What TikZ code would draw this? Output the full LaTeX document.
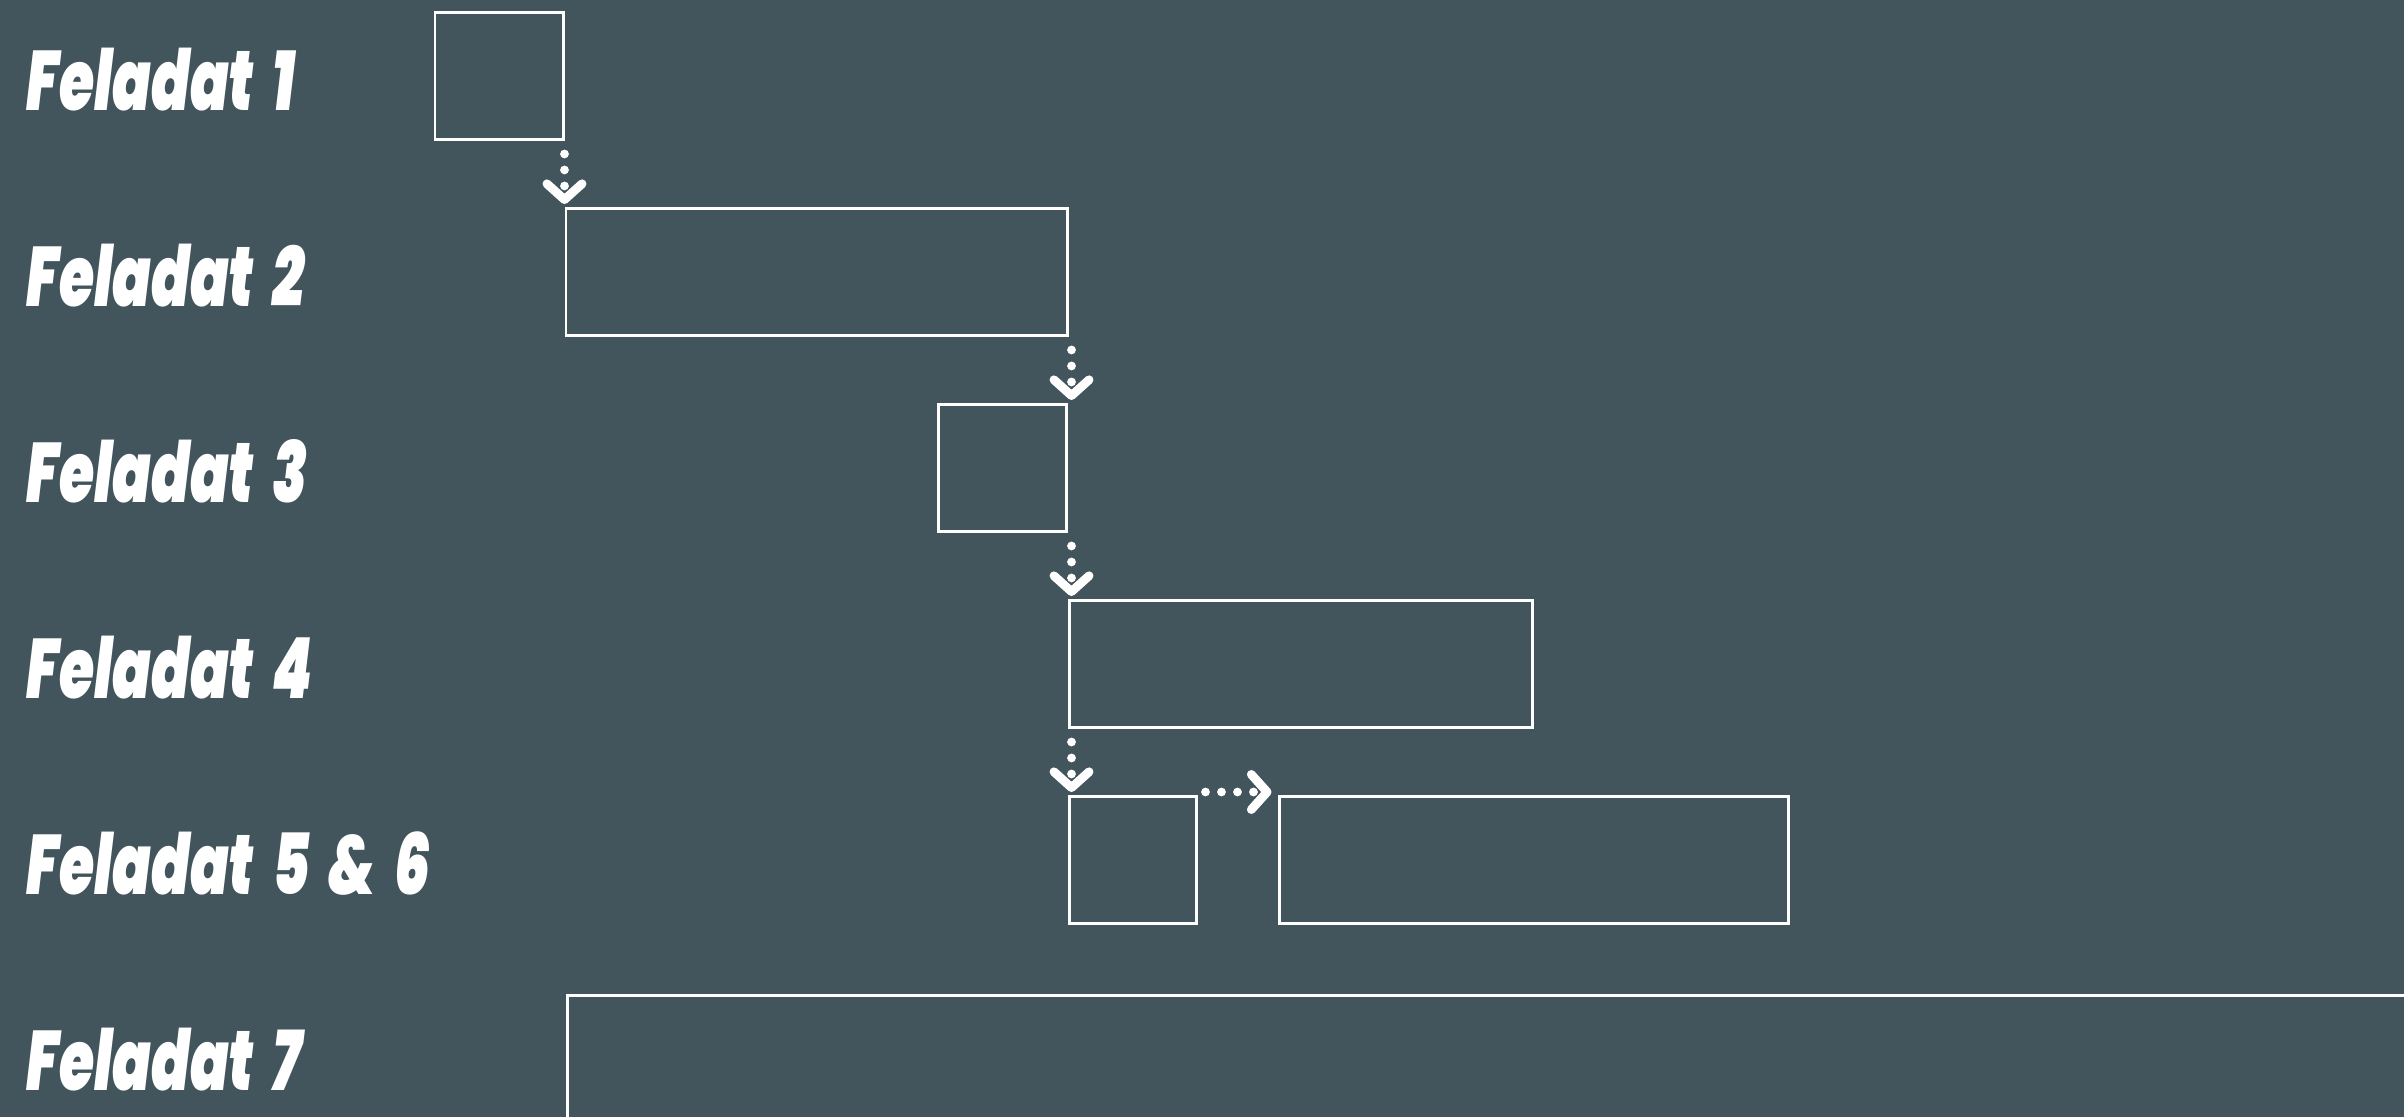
\documentclass[tikz,border=0pt]{standalone}
\usepackage{fontspec}
\newfontfamily\labelfont{Poppins Black Italic}[FakeStretch=0.675, WordSpace=1.9]
\usepackage{tikz}
\usetikzlibrary{arrows.meta}
\usetikzlibrary{positioning}
\definecolor{slate}{RGB}{66,84,92}

\begin{document}
\begin{tikzpicture}[task/.style={draw=white, line width=0.85pt, minimum height=1.27cm, inner sep=0pt},
  lab/.style={text=white, anchor=base west, inner sep=0pt, font=\labelfont\fontsize{24}{24}\selectfont},
  flow/.style={white, line width=2.5pt, line cap=round, dash pattern=on 0pt off 4.55pt,
    -{Straight Barb[length=4.5pt, width=10pt, line cap=round, line join=round]}}]
\fill[slate] (0,0) rectangle (24.04,11.17);
\clip (0,0) rectangle (24.04,11.17);

\node (f1) at (0.26,10.065) [lab] {Feladat 1};
\node (f2) at (0.26,8.105) [lab] {Feladat 2};
\node (f3) at (0.26,6.145) [lab] {Feladat 3};
\node (f4) at (0.26,4.185) [lab] {Feladat 4};
\node (f5) at (0.26,2.225) [lab] {Feladat 5 \& 6};
\node (f7) at (0.26,0.265) [lab] {Feladat 7};

\node (t1) at (4.99,10.41) [task, minimum width=1.28cm] {};
\node (t2) at (8.165,8.45) [task, minimum width=5.01cm] {};
\node (t3) at (10.02,6.49) [task, minimum width=1.28cm] {};
\node (t4) at (13.005,4.53) [task, minimum width=4.63cm] {};
\node (t5) at (11.325,2.57) [task, minimum width=1.27cm] {};
\node (t6) at (15.335,2.57) [task, minimum width=5.09cm] {};
\node (t7) at (5.66,1.23) [task, anchor=north west, minimum width=20cm] {};

\draw[flow] ([yshift=-0.13cm]t1.south east) -- ([yshift=0.03cm]t1.south east |- t2.north);
\draw[flow] ([xshift=0.04cm, yshift=-0.13cm]t2.south east -| t4.west) -- ([xshift=0.04cm, yshift=0.03cm]t3.north -| t4.west);
\draw[flow] ([xshift=0.04cm, yshift=-0.13cm]t3.south -| t4.west) -- ([xshift=0.04cm, yshift=0.03cm]t4.north west);
\draw[flow] ([xshift=0.04cm, yshift=-0.13cm]t4.south west) -- ([xshift=0.04cm, yshift=0.03cm]t5.north west);
\draw[flow] ([xshift=0.08cm, yshift=0.03cm]t5.north east) -- ([xshift=-0.06cm, yshift=0.03cm]t6.north west);
\end{tikzpicture}
\end{document}
